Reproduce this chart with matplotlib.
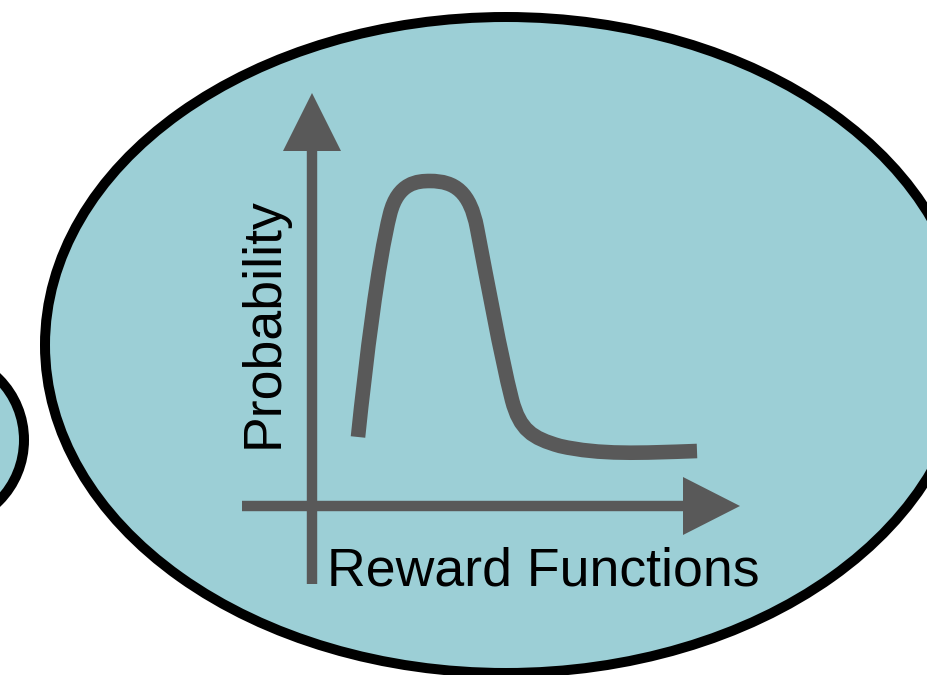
import matplotlib.pyplot as plt
from matplotlib.patches import Ellipse, Polygon, PathPatch
from matplotlib.path import Path

# sketch of a reward distribution, drawn in pixel units (y grows downward)
fill_color = '#9ccfd6'
gray = '#595959'

big_center = (506, 345)
big_size = (922, 656)
small_center = (-61, 440)
small_size = (170, 172)

y_axis = [(312, 584), (312, 148)]
y_arrow = [(283, 151), (341, 151), (312, 93)]
x_axis = [(242, 506), (686, 506)]
x_arrow = [(683, 477), (683, 535), (740, 506)]

# cubic bezier pieces for the distribution curve
curve_pts = [(358, 437),
             (366, 360), (378, 262), (390, 214),
             (398, 182), (418, 181), (430, 181),
             (455, 181), (470, 192), (477, 228),
             (488, 285), (500, 352), (512, 400),
             (520, 430), (532, 438), (560, 446),
             (600, 455), (640, 453), (697, 451)]

x_label = 'Reward Functions'
y_label = 'Probability'

fig = plt.figure(figsize=(9.28, 6.75), dpi=100)
ax = fig.add_axes([0, 0, 1, 1])
ax.set_xlim(0, 928)
ax.set_ylim(675, 0)
ax.axis('off')

ax.add_patch(Ellipse(small_center, *small_size, facecolor=fill_color,
                     edgecolor='black', linewidth=7.2))
ax.add_patch(Ellipse(big_center, *big_size, facecolor=fill_color,
                     edgecolor='black', linewidth=7.2))

xs, ys = zip(*y_axis)
ax.plot(xs, ys, color=gray, linewidth=7.5, solid_capstyle='butt')
ax.add_patch(Polygon(y_arrow, closed=True, color=gray, linewidth=0))
xs, ys = zip(*x_axis)
ax.plot(xs, ys, color=gray, linewidth=7.5, solid_capstyle='butt')
ax.add_patch(Polygon(x_arrow, closed=True, color=gray, linewidth=0))

codes = [Path.MOVETO] + [Path.CURVE4] * (len(curve_pts) - 1)
ax.add_patch(PathPatch(Path(curve_pts, codes), facecolor='none',
                       edgecolor=gray, linewidth=10.5, capstyle='butt',
                       joinstyle='round'))

ax.text(327, 585, x_label, fontsize=38.6, family='Liberation Sans',
        ha='left', va='baseline', color='black')
ax.text(264, 323, y_label, fontsize=38.6, family='Liberation Sans',
        rotation=90, ha='center', va='center', color='black')

fig.savefig('out.png', dpi=100)
